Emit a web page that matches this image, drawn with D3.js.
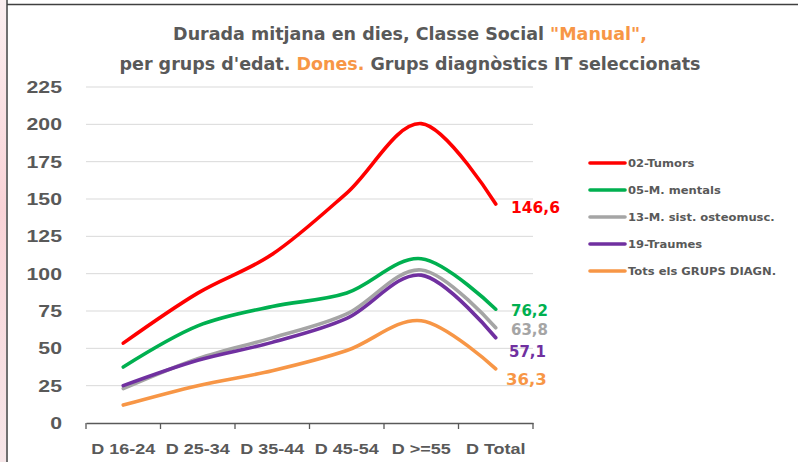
<!DOCTYPE html>
<html>
<head>
<meta charset="utf-8">
<script src="https://cdn.jsdelivr.net/npm/d3@7"></script>
<style>
  body { margin: 0; background: #fff; }
  svg { display: block; font-family: "DejaVu Sans", sans-serif; }
</style>
</head>
<body>
<div id="chart"></div>
<script>
// age groups on the x axis
var groups = ["D 16-24", "D 25-34", "D 35-44", "D 45-54", "D >=55", "D Total"];
var yTicks = [0, 25, 50, 75, 100, 125, 150, 175, 200, 225];

// mean duration in days, one array per diagnostic group
var tumors   = [53.5, 87, 113, 154, 200.5, 146.6];
var mentals  = [37.5, 65, 78, 87, 110, 76.2];
var osteo    = [23, 43, 57, 73, 102.5, 63.8];
var traumes  = [25, 42, 54, 70, 99, 57.1];
var totals   = [12, 25, 35, 48.5, 68.5, 36.3];

var seriesNames = ["02-Tumors", "05-M. mentals", "13-M. sist. osteomusc.", "19-Traumes", "Tots els GRUPS DIAGN."];
var seriesColors = ["#ff0000", "#00b050", "#a5a5a5", "#7030a0", "#f79646"];
var allValues = [tumors, mentals, osteo, traumes, totals];

var W = 798, H = 462;
var svg = d3.select("#chart").append("svg")
    .attr("width", W)
    .attr("height", H);

// left pink strip and frame
var grad = svg.append("defs").append("linearGradient")
    .attr("id", "pink").attr("x1", 0).attr("y1", 0).attr("x2", 0).attr("y2", 1);
grad.append("stop").attr("offset", "0%").attr("stop-color", "#fbeff0");
grad.append("stop").attr("offset", "45%").attr("stop-color", "#f9d3d7");
grad.append("stop").attr("offset", "100%").attr("stop-color", "#f6e6e8");
svg.append("rect").attr("x", 0).attr("y", 0).attr("width", 6).attr("height", H).attr("fill", "url(#pink)");
svg.append("line").attr("x1", 7).attr("x2", 7).attr("y1", 0).attr("y2", H)
    .attr("stroke", "#404040").attr("stroke-width", 1.5);
svg.append("line").attr("x1", 7).attr("x2", W).attr("y1", 4.5).attr("y2", 4.5)
    .attr("stroke", "#404040").attr("stroke-width", 1.5);

var x = d3.scaleBand().domain(groups).range([86, 533]);
var y = d3.scaleLinear().domain([0, 225]).range([423, 87]);
function cx(i) { return x(groups[i]) + x.bandwidth() / 2; }

// gridlines
svg.append("g").selectAll("line")
    .data(yTicks.filter(function(d) { return d > 0; }))
    .enter().append("line")
    .attr("x1", 86).attr("x2", 533)
    .attr("y1", function(d) { return y(d); })
    .attr("y2", function(d) { return y(d); })
    .attr("stroke", "#d9d9d9").attr("stroke-width", 1);

// y axis labels (font is a bit narrow, so stretch it)
var yAxis = svg.append("g")
    .attr("transform", "translate(62,0)")
    .call(d3.axisLeft(y).tickValues(yTicks).tickSize(0).tickPadding(0));
yAxis.select(".domain").remove();
yAxis.selectAll("text")
    .attr("fill", "#595959")
    .attr("transform", "scale(1.25,1)")
    .style("font-size", "17px")
    .style("font-weight", "bold");

// x axis: line, ticks at band edges, labels centred
var xAxis = svg.append("g")
    .attr("transform", "translate(0,423)")
    .call(d3.axisBottom(x).tickSize(0).tickPadding(20));
xAxis.select(".domain").attr("stroke", "#595959").attr("stroke-width", 1.3);
xAxis.selectAll("text")
    .attr("fill", "#595959")
    .attr("transform", "scale(1.2,1)")
    .style("font-size", "15px")
    .style("font-weight", "bold");
var edges = groups.map(function(g) { return x(g); }).concat([x.range()[1]]);
svg.append("g").selectAll("line").data(edges).enter().append("line")
    .attr("x1", function(d) { return d; }).attr("x2", function(d) { return d; })
    .attr("y1", 423).attr("y2", 429)
    .attr("stroke", "#595959").attr("stroke-width", 1.3);

// lines
var line = d3.line()
    .x(function(d, i) { return cx(i); })
    .y(function(d) { return y(d); })
    .curve(d3.curveCardinal.tension(0));

svg.append("g").selectAll("path")
    .data(allValues)
    .enter().append("path")
    .attr("d", line)
    .attr("fill", "none")
    .attr("stroke", function(d, i) { return seriesColors[i]; })
    .attr("stroke-width", 3.6)
    .attr("stroke-linecap", "round");

// end value labels
var endSizes = [15.5, 15, 15, 15, 16.5];
var endX = [511, 511, 511, 509, 506];
var endY = [207, 311, 330, 352, 379];
svg.append("g").selectAll("text")
    .data(allValues)
    .enter().append("text")
    .attr("x", function(d, i) { return endX[i]; })
    .attr("y", function(d, i) { return endY[i]; })
    .attr("dy", "0.36em")
    .attr("fill", function(d, i) { return seriesColors[i]; })
    .style("font-size", function(d, i) { return endSizes[i] + "px"; })
    .style("font-weight", "bold")
    .text(function(d) { return String(d[d.length - 1]).replace(".", ","); });

// legend
var legend = svg.append("g").selectAll("g")
    .data(seriesNames)
    .enter().append("g")
    .attr("transform", function(d, i) { return "translate(590," + (163 + i * 27) + ")"; });
legend.append("line")
    .attr("x1", 0).attr("x2", 35)
    .attr("stroke", function(d, i) { return seriesColors[i]; })
    .attr("stroke-width", 3.6)
    .attr("stroke-linecap", "round");
legend.append("text")
    .attr("transform", "translate(38,0) scale(1.05,1)")
    .attr("dy", "0.36em")
    .attr("fill", "#595959")
    .style("font-size", "11px")
    .style("font-weight", "bold")
    .text(function(d) { return d; });

// title
var title = svg.append("text")
    .attr("x", 410).attr("text-anchor", "middle")
    .attr("fill", "#595959")
    .style("font-size", "17.5px")
    .style("font-weight", "bold");
var l1 = title.append("tspan").attr("x", 410).attr("y", 40);
l1.append("tspan").text("Durada mitjana en dies, Classe Social ");
l1.append("tspan").attr("fill", "#f79646").text("\"Manual\",");
var l2 = title.append("tspan").attr("x", 410).attr("y", 69.5);
l2.append("tspan").text("per grups d'edat. ");
l2.append("tspan").attr("fill", "#f79646").text("Dones.");
l2.append("tspan").text(" Grups diagnòstics IT seleccionats");
</script>
</body>
</html>
